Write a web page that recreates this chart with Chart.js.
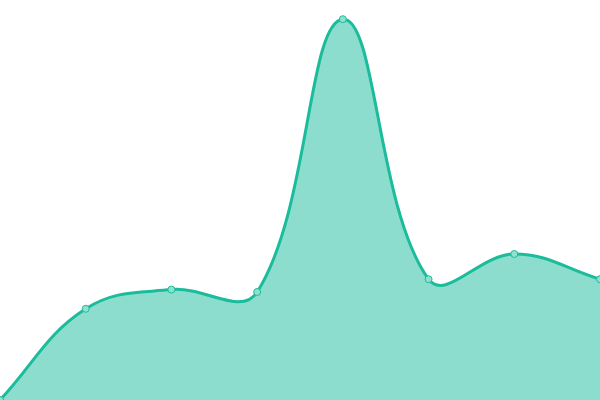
<!DOCTYPE html>
<html>
<head>
<meta charset="utf-8">
<script src="https://cdn.jsdelivr.net/npm/chart.js@4"></script>
<style>html,body{margin:0;padding:0;background:#fff;}canvas{display:block;}</style>
</head>
<body>
<canvas id="c" width="600" height="400"></canvas>
<script>
const labels = ["1", "2", "3", "4", "5", "6", "7", "8"];
const values = [0, 22.8, 27.6, 27, 95.2, 30.2, 36.5, 30.2];

new Chart(document.getElementById('c'), {
  type: 'line',
  data: {
    labels: labels,
    datasets: [{
      data: values,
      borderColor: '#1abc9c',
      backgroundColor: 'rgba(26,188,156,0.5)',
      pointBackgroundColor: '#8fe0cf',
      pointBorderColor: '#1abc9c',
      pointRadius: 3.5,
      pointBorderWidth: 1,
      borderWidth: 3,
      tension: 0.4,
      fill: true
    }]
  },
  options: {
    responsive: false,
    animation: false,
    devicePixelRatio: 1,
    layout: { padding: 0, autoPadding: false },
    plugins: { legend: { display: false }, tooltip: { enabled: false } },
    scales: {
      x: { display: false },
      y: { display: false, min: 0, max: 100 }
    }
  }
});
</script>
</body>
</html>
